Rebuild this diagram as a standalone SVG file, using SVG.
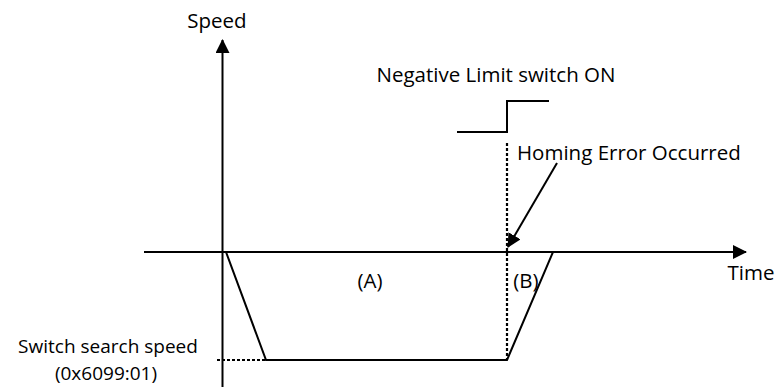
<svg xmlns="http://www.w3.org/2000/svg" width="780" height="390" viewBox="0 0 780 390">
<defs>
<style>
text{font-family:"Open Sans","Noto Sans","DejaVu Sans",sans-serif;font-size:20.5px;fill:#000}
.sm{font-size:19px}
.ln{stroke:#000;stroke-width:2;fill:none}
.dash{stroke:#000;stroke-width:2.2;fill:none;stroke-dasharray:3 2}
</style>
<marker id="ah2" markerWidth="14" markerHeight="14" refX="13" refY="7" orient="auto" markerUnits="userSpaceOnUse" viewBox="0 0 14 14"><path d="M0,0 L14,7 L0,14 Z" fill="#000"/></marker>
</defs>
<g id="axes">
<line class="ln" x1="222.5" y1="387" x2="222.5" y2="40" marker-end="url(#ah2)"/>
<line class="ln" x1="144" y1="252" x2="746" y2="252" marker-end="url(#ah2)"/>
</g>
<g id="profile">
<polyline class="ln" points="226,252 266,360 507,360 553,252"/>
<line class="dash" x1="217" y1="360" x2="266" y2="360"/>
<line class="dash" x1="507" y1="143" x2="507" y2="360"/>
</g>
<g id="switch">
<polyline class="ln" points="457,132 507,132 507,101 549,101"/>
</g>
<g id="connectors">
<line class="ln" x1="557" y1="163" x2="508" y2="247" marker-end="url(#ah2)"/>
</g>
<g id="labels">
<text x="217" y="28" text-anchor="middle">Speed</text>
<text x="496" y="82" text-anchor="middle">Negative Limit switch ON</text>
<text x="517" y="160">Homing Error Occurred</text>
<text x="370" y="288" text-anchor="middle">(A)</text>
<text x="526" y="288" text-anchor="middle">(B)</text>
<text x="751" y="280" text-anchor="middle">Time</text>
<text class="sm" x="108" y="353" text-anchor="middle">Switch search speed</text>
<text class="sm" x="106" y="380" text-anchor="middle">(0x6099:01)</text>
</g>
</svg>
